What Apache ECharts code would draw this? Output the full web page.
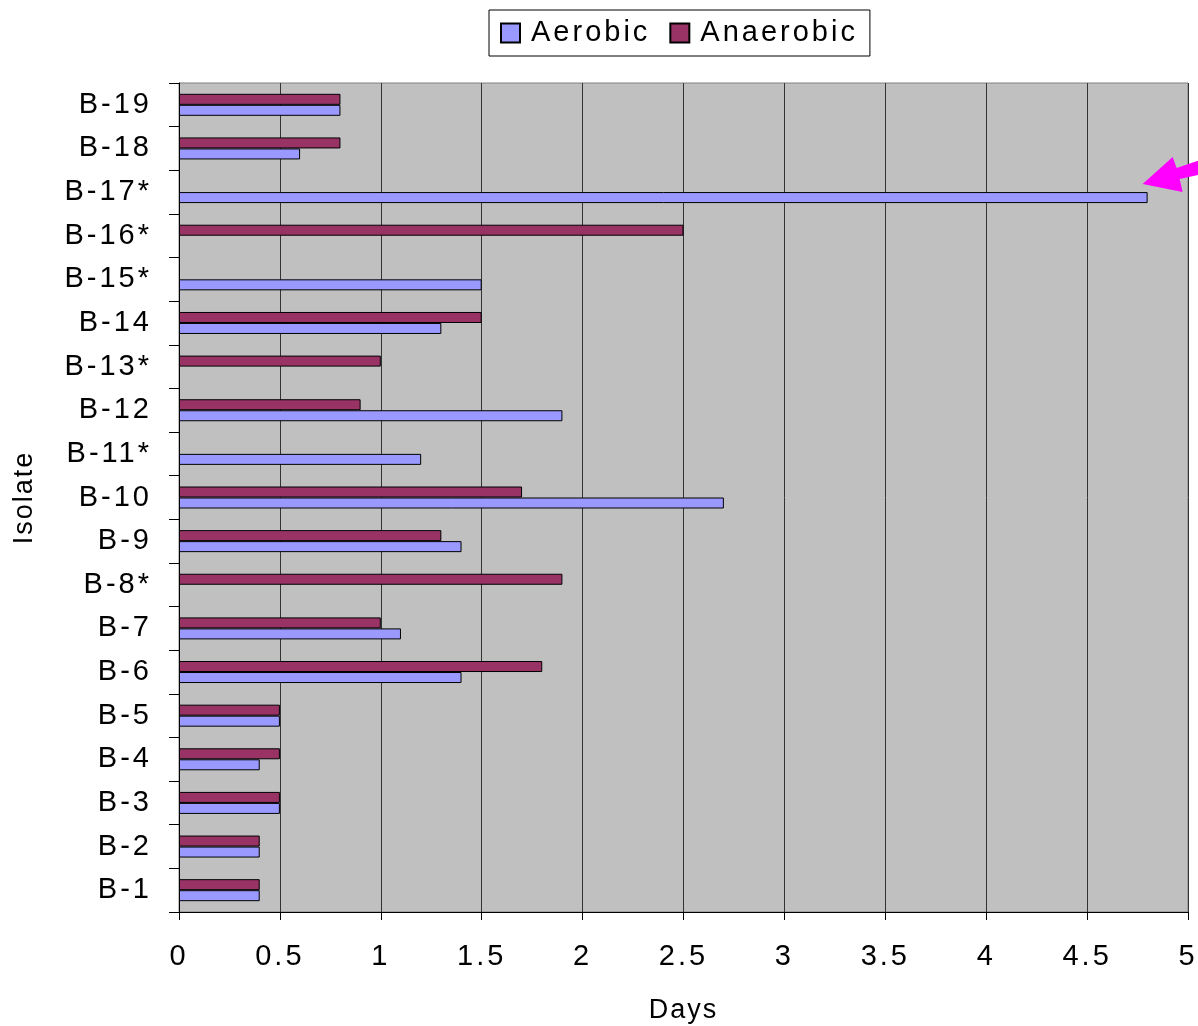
<!DOCTYPE html>
<html>
<head>
<meta charset="utf-8">
<script src="https://cdn.jsdelivr.net/npm/echarts@6/dist/echarts.min.js"></script>
<style>html,body{margin:0;padding:0;background:#fff;}#c{width:1198px;height:1026px;}</style>
</head>
<body>
<div id="c"></div>
<script>
const categories = ['B-1','B-2','B-3','B-4','B-5','B-6','B-7','B-8*','B-9','B-10','B-11*','B-12','B-13*','B-14','B-15*','B-16*','B-17*','B-18','B-19'];
const aerobic   = [0.4, 0.4, 0.5, 0.4, 0.5, 1.4, 1.1, null, 1.4, 2.7, 1.2, 1.9, null, 1.3, 1.5, null, 4.8, 0.6, 0.8];
const anaerobic = [0.4, 0.4, 0.5, 0.5, 0.5, 1.8, 1.0, 1.9, 1.3, 1.7, null, 0.9, 1.0, 1.5, null, 2.5, null, 0.8, 0.8];
const xTicks = [0, 0.5, 1, 1.5, 2, 2.5, 3, 3.5, 4, 4.5, 5];

// Wider letter spacing, as in the reference rendering (applied to both measuring and drawing)
(function () {
  const proto = CanvasRenderingContext2D.prototype;
  if (!('letterSpacing' in proto)) return;
  const pick = (ctx) => (/\b29px\b/.test(ctx.font) ? '3px' : (/\b27px\b/.test(ctx.font) ? '2px' : '0px'));
  const oFill = proto.fillText, oStroke = proto.strokeText, oMeasure = proto.measureText;
  proto.fillText = function () { this.letterSpacing = pick(this); return oFill.apply(this, arguments); };
  proto.strokeText = function () { this.letterSpacing = pick(this); return oStroke.apply(this, arguments); };
  proto.measureText = function () { this.letterSpacing = pick(this); return oMeasure.apply(this, arguments); };
})();

const FONT = '"Liberation Sans", Arial, sans-serif';
const chart = echarts.init(document.getElementById('c'), null, {renderer: 'canvas'});
const barStyle = (color) => ({ color: color, borderColor: '#000', borderWidth: 1 });

chart.setOption({
  animation: false,
  textStyle: { fontFamily: FONT },
  legend: {
    data: ['Aerobic', 'Anaerobic'],
    left: 489, top: 10,
    padding: [7, 12, 7, 11],
    itemGap: 19,
    itemWidth: 19, itemHeight: 19,
    borderColor: '#000', borderWidth: 1,
    textStyle: { fontSize: 29, color: '#000', fontFamily: FONT, padding: [0, 0, 0, 6] },
    icon: 'rect'
  },
  grid: {
    left: 179, right: 10, top: 83, bottom: 114,
    outerBoundsMode: 'none', containLabel: false,
    show: true, backgroundColor: '#C0C0C0', borderColor: '#808080', borderWidth: 1
  },
  xAxis: {
    type: 'value', min: 0, max: 5, interval: 0.5,
    name: 'Days', nameLocation: 'middle', nameGap: 84,
    nameTextStyle: { fontSize: 27, color: '#000', fontFamily: FONT },
    axisLine: { show: true, lineStyle: { color: '#000', width: 1 } },
    axisTick: { show: true, length: 8, lineStyle: { color: '#000' } },
    axisLabel: { fontSize: 29, color: '#000', margin: 29, fontFamily: FONT,
      formatter: (v) => String(xTicks.find(t => Math.abs(t - v) < 1e-9) ?? v) },
    splitLine: { show: true, lineStyle: { color: '#333', width: 1 } }
  },
  yAxis: {
    type: 'category', data: categories,
    name: 'Isolate', nameLocation: 'middle', nameGap: 140, nameRotate: 90,
    nameTextStyle: { fontSize: 27, color: '#000', fontFamily: FONT },
    axisLine: { show: true, lineStyle: { color: '#000', width: 1 } },
    axisTick: { show: true, length: 10, alignWithLabel: false, lineStyle: { color: '#000' } },
    axisLabel: { fontSize: 29, color: '#000', margin: 27, fontFamily: FONT },
    splitLine: { show: false }
  },
  series: [
    { name: 'Anaerobic', type: 'bar', data: anaerobic, barWidth: 11, barGap: '0%',
      itemStyle: barStyle('#993366') },
    { name: 'Aerobic', type: 'bar', data: aerobic, barWidth: 11, barGap: '0%',
      itemStyle: barStyle('#9999FF') }
  ]
});

// Magenta annotation arrow pointing to the B-17* aerobic bar end
const tip = chart.convertToPixel({ gridIndex: 0 }, [4.8, 'B-17*']);
const tx = tip[0] - 5, ty = tip[1] - 8;
const rel = [[0,0],[30,-27],[34,-16],[60,-25],[60,-10],[37,-5],[40,8]];
chart.setOption({
  graphic: [{
    type: 'polygon', z: 100,
    shape: { points: rel.map(p => [tx + p[0], ty + p[1]]) },
    style: { fill: '#FF00FF' }
  }]
});
</script>
</body>
</html>
